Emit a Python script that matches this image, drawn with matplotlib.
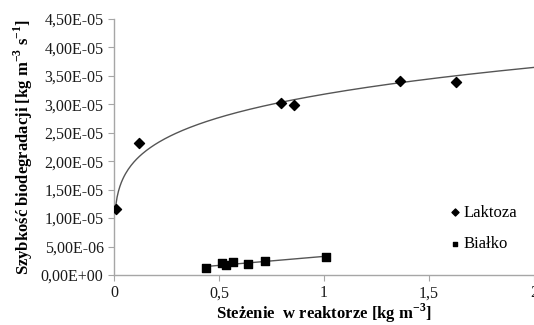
import matplotlib
matplotlib.use("Agg")
import matplotlib.pyplot as plt
import numpy as np
from matplotlib.ticker import FuncFormatter

# Laktoza
lak_x = [0.008, 0.119, 0.795, 0.856, 1.36, 1.627]
lak_y = [1.155e-5, 2.315e-5, 3.02e-5, 2.99e-5, 3.41e-5, 3.39e-5]
# Bialko
bia_x = [0.438, 0.513, 0.533, 0.568, 0.636, 0.719, 1.01]
bia_y = [1.15e-6, 2.05e-6, 1.75e-6, 2.2e-6, 1.9e-6, 2.45e-6, 3.25e-6]

x_ticks = [0, 0.5, 1, 1.5, 2]
x_labels = ['0', '0,5', '1', '1,5', '2']
y_ticks = np.arange(0, 4.51e-5, 5e-6)

plt.rcParams['font.family'] = ['Liberation Serif', 'DejaVu Serif']

fig = plt.figure(figsize=(5.34, 3.25), dpi=100)
ax = fig.add_axes([0.2135, 0.1538, 0.7865, 0.7877])

ax.scatter(lak_x, lak_y, marker='D', s=26, color='black', zorder=3, label='Laktoza')
ax.scatter(bia_x, bia_y, marker='s', s=26, color='black', zorder=3, label='Białko')

# power trendline (excel style, forecast to 2)
b, lna = np.polyfit(np.log(lak_x), np.log(lak_y), 1)
xx = np.linspace(min(lak_x), 2, 300)
ax.plot(xx, np.exp(lna) * xx ** b, color='#555555', lw=1.0, zorder=2)

# linear trendline
m, c = np.polyfit(bia_x, bia_y, 1)
xl = np.array([min(bia_x), max(bia_x)])
ax.plot(xl, m * xl + c, color='#555555', lw=1.0, zorder=2)

ax.set_xlim(0, 2)
ax.set_ylim(0, 4.5e-5)
ax.set_xticks(x_ticks)
ax.set_xticklabels(x_labels)
ax.set_yticks(y_ticks)
ax.yaxis.set_major_formatter(FuncFormatter(lambda v, p: ('%.2E' % v).replace('.', ',')))

for s in ['top', 'right']:
    ax.spines[s].set_visible(False)
for s in ['left', 'bottom']:
    ax.spines[s].set_color('#a6a6a6')
    ax.spines[s].set_linewidth(1.0)
ax.tick_params(direction='out', length=4, color='#a6a6a6', labelsize=11.5, labelcolor='#1a1a1a')

ax.set_xlabel('Steżenie  w reaktorze [kg m$^{\\mathregular{-3}}$]', fontsize=12, fontweight='bold', labelpad=0)
ax.set_ylabel('Szybkość biodegradacji [kg m$^{\\mathregular{-3}}$ s$^{\\mathregular{-1}}$]', fontsize=12, fontweight='bold', labelpad=4)

ax.legend(loc='lower right', bbox_to_anchor=(0.995, 0.03), frameon=False, fontsize=12,
          handletextpad=0.0, labelspacing=0.95, markerscale=0.7, handlelength=1.0)

fig.savefig('out.png', dpi=100)
